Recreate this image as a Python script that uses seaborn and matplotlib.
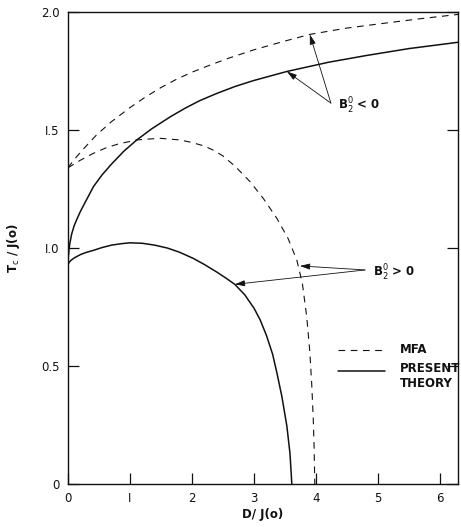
import matplotlib
matplotlib.use("Agg")
import matplotlib.pyplot as plt
import seaborn as sns
import pandas as pd

# Transition temperature Tc/J(0) versus anisotropy D/J(0)
# MFA, B2^0 < 0
mfa_neg_d = [0.0, 0.1, 0.25, 0.46, 0.7, 1.0, 1.25, 1.5, 1.75, 2.0, 2.29, 2.6, 3.0,
             3.5, 3.9, 4.5, 5.09, 5.7, 6.3]
mfa_neg_t = [1.34, 1.375, 1.42, 1.479, 1.535, 1.595, 1.64, 1.68, 1.715, 1.745, 1.775,
             1.805, 1.84, 1.877, 1.905, 1.932, 1.952, 1.972, 1.99]

# Present theory, B2^0 < 0
th_neg_d = [0.0, 0.005, 0.015, 0.03, 0.06, 0.1, 0.14, 0.2, 0.3, 0.41, 0.55, 0.7, 0.9,
            1.11, 1.35, 1.65, 1.9, 2.13, 2.4, 2.7, 3.0, 3.53, 4.2, 4.82, 5.5, 6.3]
th_neg_t = [0.93, 0.96, 0.99, 1.02, 1.06, 1.095, 1.12, 1.155, 1.205, 1.26, 1.31, 1.355,
            1.41, 1.458, 1.505, 1.556, 1.594, 1.625, 1.655, 1.685, 1.71, 1.748, 1.787,
            1.816, 1.845, 1.872]

# MFA, B2^0 > 0
mfa_pos_d = [0.0, 0.2, 0.4, 0.6, 0.8, 1.11, 1.48, 1.8, 2.0, 2.2, 2.34, 2.5, 2.7, 2.94,
             3.15, 3.37, 3.55, 3.69, 3.78, 3.85, 3.9, 3.93, 3.955, 3.97, 3.98]
mfa_pos_t = [1.34, 1.372, 1.40, 1.423, 1.44, 1.458, 1.465, 1.458, 1.447, 1.432, 1.415,
             1.39, 1.345, 1.28, 1.21, 1.125, 1.04, 0.949, 0.85, 0.709, 0.56, 0.427,
             0.28, 0.15, 0.0]

# Present theory, B2^0 > 0
th_pos_d = [0.0, 0.02, 0.05, 0.1, 0.2, 0.3, 0.41, 0.55, 0.7, 0.85, 1.0, 1.2, 1.4, 1.6,
            1.8, 2.02, 2.2, 2.4, 2.55, 2.69, 2.85, 3.0, 3.1, 3.2, 3.3, 3.37, 3.45, 3.53,
            3.58, 3.61]
th_pos_t = [0.93, 0.94, 0.948, 0.958, 0.972, 0.982, 0.99, 1.002, 1.012, 1.018, 1.022,
            1.02, 1.012, 1.0, 0.982, 0.956, 0.93, 0.898, 0.872, 0.846, 0.802, 0.745,
            0.695, 0.63, 0.55, 0.47, 0.37, 0.245, 0.13, 0.0]

x_ticks = [0, 1, 2, 3, 4, 5, 6]
x_tick_labels = ["0", "I", "2", "3", "4", "5", "6"]
y_ticks = [0, 0.5, 1.0, 1.5, 2.0]
y_tick_labels = ["0", "0.5", "I.0", "I.5", "2.0"]

sns.set_theme(style="ticks")
plt.rcParams["font.family"] = ["DejaVu Sans"]

fig = plt.figure(figsize=(4.61, 5.27), dpi=100)
ax = fig.add_axes([68 / 461, 43 / 527, 390 / 461, 472 / 527])

ink = "#111111"
dash = (0, (6, 5))
lw_dash, lw_solid = 0.8, 1.1

curves = [
    (mfa_neg_d, mfa_neg_t, dash, lw_dash),
    (th_neg_d, th_neg_t, "-", lw_solid),
    (mfa_pos_d, mfa_pos_t, dash, lw_dash),
    (th_pos_d, th_pos_t, "-", lw_solid),
]
for d, t, ls, lw in curves:
    df = pd.DataFrame({"D": d, "Tc": t})
    sns.lineplot(data=df, x="D", y="Tc", ax=ax, estimator=None, sort=False,
                 color=ink, linestyle=ls, linewidth=lw)

ax.set_xlim(0, 6.29)
ax.set_ylim(0, 2.0)
ax.set_xticks(x_ticks)
ax.set_xticklabels(x_tick_labels)
ax.set_yticks(y_ticks)
ax.set_yticklabels(y_tick_labels)
ax.tick_params(direction="in", length=8, width=0.9, colors=ink, labelsize=8.5,
               right=True, top=False, pad=6)
for s in ax.spines.values():
    s.set_color(ink)
    s.set_linewidth(1.0)

ax.set_xlabel("D/ J(o)", fontsize=8.5, color=ink, labelpad=2, fontweight="bold")
ax.set_ylabel("T$_\\mathrm{c}$ / J(o)", fontsize=8.5, color=ink, labelpad=14,
              fontweight="bold")

# Branch labels with arrows pointing to the curves
arrow_kw = dict(arrowstyle="-|>,head_length=0.5,head_width=0.15", color=ink, lw=0.6,
                shrinkA=0, shrinkB=0)
ax.text(4.35, 1.60, "B$_2^0$ < 0", fontsize=8.5, color=ink, va="center",
        fontweight="bold")
ax.annotate("", xy=(3.90, 1.905), xytext=(4.24, 1.614), arrowprops=arrow_kw)
ax.annotate("", xy=(3.53, 1.748), xytext=(4.24, 1.614), arrowprops=arrow_kw)

ax.text(4.92, 0.894, "B$_2^0$ > 0", fontsize=8.5, color=ink, va="center",
        fontweight="bold")
ax.annotate("", xy=(3.74, 0.924), xytext=(4.79, 0.907), arrowprops=arrow_kw)
ax.annotate("", xy=(2.69, 0.846), xytext=(4.79, 0.907), arrowprops=arrow_kw)

# Key for the two line styles, placed in axes coordinates
tr = ax.transAxes
ax.plot([0.692, 0.813], [0.284, 0.284], transform=tr, color=ink, linestyle=dash,
        linewidth=lw_dash, clip_on=False)
ax.plot([0.692, 0.813], [0.239, 0.239], transform=tr, color=ink, linestyle="-",
        linewidth=lw_solid, clip_on=False)
ax.text(0.851, 0.284, "MFA", transform=tr, fontsize=8.5, color=ink, va="center",
        fontweight="bold")
ax.text(0.851, 0.258, "PRESENT\nTHEORY", transform=tr, fontsize=8.5, color=ink,
        va="top", linespacing=1.15, fontweight="bold")

fig.savefig("out.png", dpi=100)
